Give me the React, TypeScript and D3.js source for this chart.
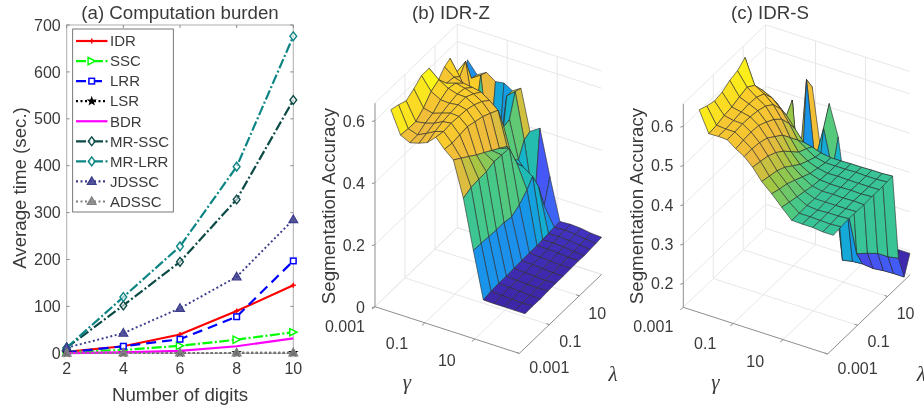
import React from "react";
import * as d3 from "d3";

const digits = [2, 4, 6, 8, 10];
const yTicks = [0, 100, 200, 300, 400, 500, 600, 700];
const idrTime = [3, 15, 40, 90, 145];
const sscTime = [3, 7, 16, 29, 45];
const lrrTime = [2, 15, 30, 78, 197];
const lsrTime = [0.5, 0.7, 1, 1, 1.2];
const bdrTime = [0.5, 2, 5, 15, 32];
const mrSscTime = [12, 102, 195, 328, 540];
const mrLrrTime = [12, 120, 228, 398, 676];
const jdsscTime = [12, 43, 96, 163, 285];
const adsscTime = [0.5, 0.7, 1, 1, 1];

const seriesDefs = [
  { name: "IDR", values: idrTime, color: "#ff0000", dash: "", marker: "plus" },
  { name: "SSC", values: sscTime, color: "#00ff00", dash: "10,2.5,2,2.5", marker: "right" },
  { name: "LRR", values: lrrTime, color: "#0000ff", dash: "10,6", marker: "square" },
  { name: "LSR", values: lsrTime, color: "#000000", dash: "2,2.5", marker: "star" },
  { name: "BDR", values: bdrTime, color: "#ff00ff", dash: "", marker: "none" },
  { name: "MR-SSC", values: mrSscTime, color: "#0c4a46", dash: "10,2.5,2,2.5", marker: "diamond" },
  { name: "MR-LRR", values: mrLrrTime, color: "#0e8585", dash: "10,2.5,2,2.5", marker: "diamond" },
  { name: "JDSSC", values: jdsscTime, color: "#3c3c8c", dash: "2,2.5", marker: "triangle" },
  { name: "ADSSC", values: adsscTime, color: "#808080", dash: "2,2.5", marker: "triangle" },
];

// log10 positions of the grid samples
const gammaLog = [-2.595, -2.208, -1.83, -1.47, -1.13, -0.79, -0.45, -0.09, 0.31, 0.71, 1.11, 1.54, 1.95, 2.36, 2.78];
const lambdaLog = [-2.616, -2.106, -1.595, -1.084, -0.574, -0.063, 0.447, 0.958, 1.335, 1.724, 2.107, 2.49];

const accuracyZ = [
  [0.628, 0.62, 0.609, 0.624, 0.643, 0.643, 0.571, 0.6, 0.61, 0.544, 0.25, 0.552],
  [0.556, 0.553, 0.552, 0.572, 0.602, 0.616, 0.581, 0.577, 0.561, 0.592, 0.52, 0.514],
  [0.541, 0.543, 0.557, 0.565, 0.585, 0.598, 0.591, 0.567, 0.5, 0.42, 0.54, 0.531],
  [0.549, 0.557, 0.566, 0.575, 0.583, 0.589, 0.584, 0.563, 0.5, 0.46, 0.3, 0.511],
  [0.56, 0.572, 0.58, 0.584, 0.587, 0.588, 0.575, 0.557, 0.47, 0.3, 0.28, 0.515],
  [0.586, 0.581, 0.584, 0.582, 0.58, 0.572, 0.559, 0.539, 0.45, 0.33, 0.5, 0.499],
  [0.556, 0.552, 0.555, 0.558, 0.55, 0.543, 0.53, 0.516, 0.445, 0.45, 0.523, 0.516],
  [0.531, 0.513, 0.495, 0.476, 0.46, 0.443, 0.426, 0.409, 0.347, 0.33, 0.376, 0.386],
  [0.418, 0.429, 0.432, 0.432, 0.441, 0.439, 0.437, 0.364, 0.337, 0.29, 0.17, 0.407],
  [0.26, 0.259, 0.257, 0.255, 0.255, 0.25, 0.265, 0.289, 0.315, 0.265, 0.185, 0.261],
  [0.111, 0.115, 0.117, 0.116, 0.118, 0.119, 0.12, 0.12, 0.122, 0.124, 0.126, 0.127],
  [0.11, 0.113, 0.115, 0.114, 0.116, 0.118, 0.118, 0.12, 0.122, 0.125, 0.128, 0.129],
  [0.11, 0.112, 0.113, 0.112, 0.114, 0.115, 0.116, 0.118, 0.12, 0.123, 0.126, 0.127],
  [0.11, 0.11, 0.111, 0.111, 0.112, 0.113, 0.114, 0.115, 0.117, 0.119, 0.121, 0.122],
  [0.11, 0.111, 0.11, 0.112, 0.113, 0.113, 0.114, 0.115, 0.114, 0.116, 0.117, 0.12],
];

const accuracyS = [
  [0.636, 0.627, 0.621, 0.625, 0.636, 0.642, 0.657, 0.563, 0.5, 0.45, 0.42, 0.4],
  [0.583, 0.586, 0.592, 0.595, 0.602, 0.608, 0.594, 0.563, 0.536, 0.47, 0.45, 0.42],
  [0.584, 0.584, 0.587, 0.59, 0.592, 0.59, 0.58, 0.552, 0.522, 0.37, 0.38, 0.36],
  [0.583, 0.584, 0.586, 0.585, 0.582, 0.575, 0.56, 0.53, 0.5, 0.525, 0.3, 0.33],
  [0.567, 0.57, 0.572, 0.57, 0.56, 0.548, 0.53, 0.5, 0.473, 0.29, 0.57, 0.537],
  [0.554, 0.555, 0.552, 0.545, 0.53, 0.515, 0.49, 0.465, 0.446, 0.35, 0.371, 0.383],
  [0.534, 0.53, 0.525, 0.515, 0.5, 0.48, 0.46, 0.45, 0.441, 0.33, 0.46, 0.509],
  [0.505, 0.5, 0.495, 0.485, 0.47, 0.455, 0.445, 0.436, 0.433, 0.35, 0.36, 0.431],
  [0.482, 0.475, 0.47, 0.46, 0.45, 0.44, 0.435, 0.43, 0.429, 0.33, 0.14, 0.25],
  [0.456, 0.45, 0.445, 0.44, 0.435, 0.432, 0.43, 0.43, 0.429, 0.3, 0.145, 0.2],
  [0.431, 0.43, 0.431, 0.43, 0.43, 0.43, 0.431, 0.43, 0.43, 0.187, 0.147, 0.19],
  [0.43, 0.43, 0.428, 0.43, 0.431, 0.43, 0.43, 0.431, 0.43, 0.197, 0.144, 0.19],
  [0.43, 0.429, 0.43, 0.43, 0.43, 0.431, 0.43, 0.43, 0.431, 0.205, 0.147, 0.194],
  [0.427, 0.428, 0.43, 0.43, 0.431, 0.43, 0.43, 0.43, 0.431, 0.205, 0.148, 0.194],
  [0.427, 0.43, 0.432, 0.431, 0.43, 0.432, 0.431, 0.432, 0.433, 0.21, 0.148, 0.194],
];

const gammaTicks = [-3, -1, 1];
const lambdaTicks = [-3, -1, 1];
const tickText = ["0.001", "0.1", "10"];
const zTicksB = [0, 0.2, 0.4, 0.6];
const zTicksC = [0.2, 0.3, 0.4, 0.5, 0.6];

const parulaStops = [
  [0.2422, 0.1504, 0.6603],
  [0.281, 0.3228, 0.9579],
  [0.1786, 0.5, 0.9682],
  [0.08, 0.6, 0.9],
  [0.08, 0.7, 0.8],
  [0.14, 0.74, 0.68],
  [0.28, 0.79, 0.53],
  [0.62, 0.78, 0.27],
  [0.93, 0.73, 0.24],
  [0.99, 0.81, 0.16],
  [0.9769, 0.9839, 0.0805],
];

const parula = d3
  .scaleLinear<string>()
  .domain(parulaStops.map((_, i) => i / (parulaStops.length - 1)))
  .range(parulaStops.map((c) => d3.rgb(c[0] * 255, c[1] * 255, c[2] * 255).formatHex()))
  .clamp(true);

const FONT = "'Liberation Sans', Arial, sans-serif";
const INK = "#3a3a3a";

function Marker({ kind, x, y, color }: { kind: string; x: number; y: number; color: string }) {
  const s = 3.6;
  if (kind === "plus")
    return <path d={`M${x - 2.5},${y}H${x + 2.5}M${x},${y - 2.5}V${y + 2.5}`} stroke={color} strokeWidth={1.5} fill="none" />;
  if (kind === "right")
    return <path d={`M${x - s},${y - s}L${x + s},${y}L${x - s},${y + s}Z`} stroke={color} strokeWidth={1.5} fill="#ffffff" />;
  if (kind === "square")
    return <rect x={x - 2.8} y={y - 2.8} width={5.6} height={5.6} stroke={color} strokeWidth={1.5} fill="#ffffff" />;
  if (kind === "diamond")
    return <path d={`M${x},${y - 4.4}L${x + 3.4},${y}L${x},${y + 4.4}L${x - 3.4},${y}Z`} stroke={color} strokeWidth={1.4} fill="#ffffff" fillOpacity={0.6} />;
  if (kind === "triangle")
    return <path d={`M${x},${y - 4.6}L${x + 4.4},${y + 3}L${x - 4.4},${y + 3}Z`} stroke={color} strokeWidth={1.2} fill={color} fillOpacity={0.85} />;
  if (kind === "star") {
    const d = d3.lineRadial().curve(d3.curveLinearClosed)(
      d3.range(10).map((k) => [(k * Math.PI) / 5, k % 2 ? 2.2 : 5.4] as [number, number])
    );
    return <path d={d || ""} transform={`translate(${x},${y})`} fill={color} />;
  }
  return null;
}

function LinePanel() {
  const x = d3.scaleLinear().domain([2, 10]).range([66.7, 293.3]);
  const y = d3.scaleLinear().domain([0, 700]).range([353.3, 25]);
  const line = d3
    .line<number>()
    .x((_, i) => x(digits[i]))
    .y((v) => y(v));
  const legendY = d3.scalePoint<string>().domain(seriesDefs.map((s) => s.name)).range([41, 201.5]);
  return (
    <g fontFamily={FONT}>
      <rect x={x(2)} y={y(700)} width={x(10) - x(2)} height={y(0) - y(700)} fill="none" stroke="#b4b4b4" strokeWidth={1.1} />
      {yTicks.map((t) => (
        <g key={t}>
          <line x1={x(2)} x2={x(2) + 3} y1={y(t)} y2={y(t)} stroke="#8a8a8a" />
          <line x1={x(10)} x2={x(10) - 3} y1={y(t)} y2={y(t)} stroke="#8a8a8a" />
          <text x={x(2) - 6} y={y(t) + 5.6} textAnchor="end" fontSize={16} fill={INK}>{t}</text>
        </g>
      ))}
      {digits.map((t) => (
        <g key={t}>
          <line x1={x(t)} x2={x(t)} y1={y(0)} y2={y(0) - 3} stroke="#8a8a8a" />
          <line x1={x(t)} x2={x(t)} y1={y(700)} y2={y(700) + 3} stroke="#8a8a8a" />
          <text x={x(t)} y={373.5} textAnchor="middle" fontSize={16} fill={INK}>{t}</text>
        </g>
      ))}
      {seriesDefs.map((s) => (
        <g key={s.name}>
          <path d={line(s.values) || ""} fill="none" stroke={s.color} strokeWidth={s.dash.startsWith("2,") ? 1.9 : 2.2} strokeDasharray={s.dash} />
          {s.values.map((v, i) => (
            <Marker key={i} kind={s.marker} x={x(digits[i])} y={y(v)} color={s.color} />
          ))}
        </g>
      ))}
      <rect x={72.7} y={29} width={100.6} height={183} fill="#ffffff" stroke="#555555" strokeWidth={0.8} />
      {seriesDefs.map((s) => (
        <g key={s.name}>
          <line x1={76} x2={107.5} y1={legendY(s.name)} y2={legendY(s.name)} stroke={s.color} strokeWidth={2.2} strokeDasharray={s.dash} />
          <Marker kind={s.marker} x={91.7} y={legendY(s.name) as number} color={s.color} />
          <text x={110} y={(legendY(s.name) as number) + 5.3} fontSize={15} fill={INK}>{s.name}</text>
        </g>
      ))}
      <text x={180} y={18.5} textAnchor="middle" fontSize={18.7} fill={INK}>(a) Computation burden</text>
      <text x={180} y={401} textAnchor="middle" fontSize={18.7} fill={INK}>Number of digits</text>
      <text transform="translate(26,188) rotate(-90)" textAnchor="middle" fontSize={18.7} fill={INK}>Average time (sec.)</text>
    </g>
  );
}

type PanelProps = {
  ox: number;
  oy: number;
  title: string;
  titleX: number;
  matrix: number[][];
  zDomain: [number, number];
  zTicks: number[];
  clim: [number, number];
};

function Surface3D({ ox, oy, title, titleX, matrix, zDomain, zTicks, clim }: PanelProps) {
  const uS = d3.scaleLinear().domain([-3, 2.78]).range([0, 1]);
  const vS = d3.scaleLinear().domain([-3, 2.49]).range([0, 1]);
  const zS = d3.scaleLinear().domain(zDomain).range([0, 203.5]);
  const color = d3.scaleLinear().domain(clim).range([0, 1]);
  const P = (g: number, l: number, z: number): [number, number] => {
    const u = uS(g);
    const v = vS(l);
    return [ox + 144.3 * u + 82.3 * v, oy + 46.7 * u - 79 * v - zS(z)];
  };
  const gl = [-3, 2.78];
  const ll = [-3, 2.49];
  const zl = zDomain;
  const grid = "#e4e4e4";
  const seg = (a: [number, number], b: [number, number], stroke: string, key: string, w = 0.9) => (
    <line key={key} x1={a[0]} y1={a[1]} x2={b[0]} y2={b[1]} stroke={stroke} strokeWidth={w} />
  );
  const backLines: React.ReactNode[] = [];
  gammaTicks.slice(1).forEach((g) => {
    backLines.push(seg(P(g, ll[0], zl[0]), P(g, ll[1], zl[0]), grid, `fg${g}`));
    backLines.push(seg(P(g, ll[1], zl[0]), P(g, ll[1], zl[1]), grid, `wg${g}`));
  });
  backLines.push(seg(P(gl[0], ll[1], zl[0]), P(gl[1], ll[1], zl[0]), grid, "f1"));
  backLines.push(seg(P(gl[0], ll[0], zl[0]), P(gl[0], ll[1], zl[0]), grid, "f2"));
  backLines.push(seg(P(gl[0], ll[1], zl[0]), P(gl[0], ll[1], zl[1]), grid, "corner"));
  backLines.push(seg(P(gl[0], ll[0], zl[1]), P(gl[0], ll[1], zl[1]), grid, "t1"));
  backLines.push(seg(P(gl[0], ll[1], zl[1]), P(gl[1], ll[1], zl[1]), grid, "t2"));
  lambdaTicks.slice(1).forEach((l) => {
    backLines.push(seg(P(gl[0], l, zl[0]), P(gl[1], l, zl[0]), grid, `fl${l}`));
    backLines.push(seg(P(gl[0], l, zl[0]), P(gl[0], l, zl[1]), grid, `wl${l}`));
  });
  zTicks.forEach((z) => {
    backLines.push(seg(P(gl[0], ll[0], z), P(gl[0], ll[1], z), grid, `zl${z}`));
    backLines.push(seg(P(gl[0], ll[1], z), P(gl[1], ll[1], z), grid, `zb${z}`));
  });

  const faces: React.ReactNode[] = [];
  for (let i = 0; i < gammaLog.length - 1; i++) {
    for (let j = lambdaLog.length - 2; j >= 0; j--) {
      const pts = [
        P(gammaLog[i], lambdaLog[j], matrix[i][j]),
        P(gammaLog[i + 1], lambdaLog[j], matrix[i + 1][j]),
        P(gammaLog[i + 1], lambdaLog[j + 1], matrix[i + 1][j + 1]),
        P(gammaLog[i], lambdaLog[j + 1], matrix[i][j + 1]),
      ];
      faces.push(
        <polygon
          key={`${i}-${j}`}
          points={pts.map((p) => p.join(",")).join(" ")}
          fill={parula(color(matrix[i][j]))}
          stroke="#2a2a2a"
          strokeWidth={0.6}
          strokeLinejoin="round"
        />
      );
    }
  }
  const axisC = "#8e8e8e";
  const gLabelOff: [number, number][] = [[-30, 20], [-28, 21], [-28, 22]];
  const lLabelOff: [number, number][] = [[30, 15], [21, 17], [18, 18]];
  return (
    <g fontFamily={FONT}>
      {backLines}
      {faces}
      {seg(P(gl[0], ll[0], zl[0]), P(gl[0], ll[0], zl[1]), axisC, "az", 1)}
      {seg(P(gl[0], ll[0], zl[0]), P(gl[1], ll[0], zl[0]), axisC, "ax", 1)}
      {seg(P(gl[1], ll[0], zl[0]), P(gl[1], ll[1], zl[0]), axisC, "ay", 1)}
      {zTicks.map((z) => {
        const p = P(gl[0], ll[0], z);
        return (
          <g key={z}>
            <line x1={p[0]} y1={p[1]} x2={p[0] - 3} y2={p[1] + 1} stroke={axisC} />
            <text x={p[0] - 10} y={p[1] + 6} textAnchor="end" fontSize={16} fill={INK}>{z}</text>
          </g>
        );
      })}
      {gammaTicks.map((g, k) => {
        const p = P(g, ll[0], zl[0]);
        return (
          <g key={g}>
            <line x1={p[0]} y1={p[1]} x2={p[0] - 3} y2={p[1] + 2.5} stroke={axisC} />
            <text x={p[0] + gLabelOff[k][0]} y={p[1] + gLabelOff[k][1] + 5} textAnchor="middle" fontSize={16} fill={INK}>{tickText[k]}</text>
          </g>
        );
      })}
      {lambdaTicks.map((l, k) => {
        const p = P(gl[1], l, zl[0]);
        return (
          <g key={l}>
            <line x1={p[0]} y1={p[1]} x2={p[0] - 3} y2={p[1] - 1} stroke={axisC} />
            <text x={p[0] + lLabelOff[k][0]} y={p[1] + lLabelOff[k][1] + 5} textAnchor="middle" fontSize={16} fill={INK}>{tickText[k]}</text>
          </g>
        );
      })}
      <text x={titleX} y={18.5} textAnchor="middle" fontSize={18.7} fill={INK}>{title}</text>
      <text transform={`translate(${ox - 40},206) rotate(-90)`} textAnchor="middle" fontSize={18.7} fill={INK}>Segmentation Accuracy</text>
      <text x={ox + 32} y={389} textAnchor="middle" fontSize={21} fontStyle="italic" fontFamily="'Liberation Serif', serif" fill={INK}>γ</text>
      <text x={ox + 238} y={381} textAnchor="middle" fontSize={21} fontStyle="italic" fontFamily="'Liberation Serif', serif" fill={INK}>λ</text>
    </g>
  );
}

export default function App() {
  return (
    <svg width={924} height={410} viewBox="0 0 924 410" style={{ position: "absolute", left: 0, top: 0, background: "#ffffff", filter: "blur(0.35px)" }}>
      <LinePanel />
      <Surface3D ox={375} oy={306.7} title="(b) IDR-Z" titleX={451} matrix={accuracyZ} zDomain={[0, 0.656]} zTicks={zTicksB} clim={[0.11, 0.65]} />
      <Surface3D ox={683.3} oy={307.3} title="(c) IDR-S" titleX={770} matrix={accuracyS} zDomain={[0.139, 0.657]} zTicks={zTicksC} clim={[0.144, 0.657]} />
    </svg>
  );
}
